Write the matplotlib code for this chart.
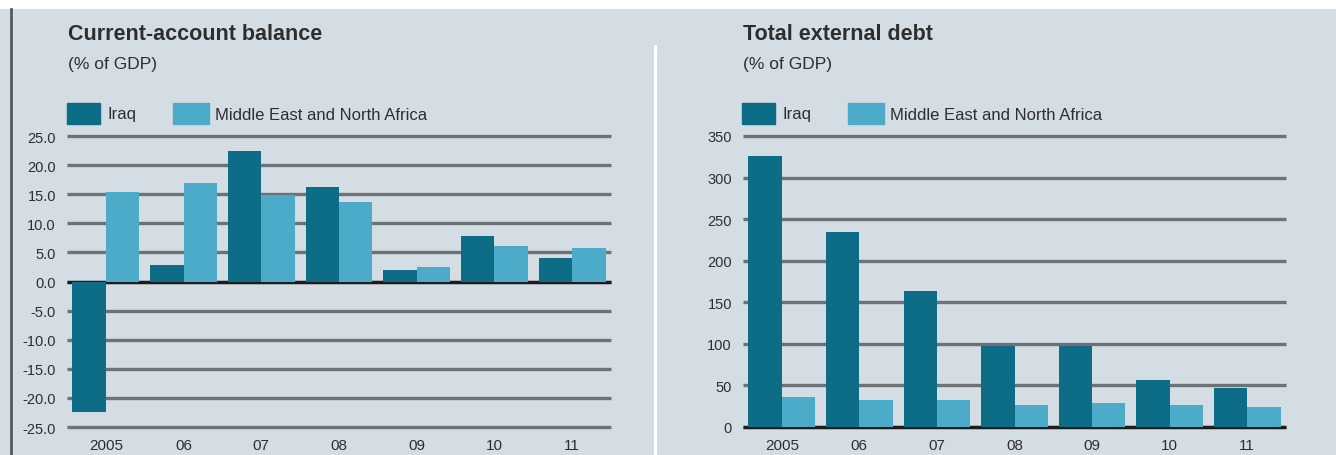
import matplotlib
matplotlib.use("Agg")
import matplotlib.pyplot as plt
import numpy as np

years = ["2005", "06", "07", "08", "09", "10", "11"]

# current-account balance, % of GDP
ca_iraq = [-22.5, 2.8, 22.5, 16.2, 2.0, 7.9, 4.0]
ca_mena = [15.4, 17.0, 14.8, 13.6, 2.5, 6.1, 5.8]

# total external debt, % of GDP
debt_iraq = [326, 235, 164, 98, 98, 57, 47]
debt_mena = [36, 33, 33, 27, 29, 26, 24]

IRAQ = "#0d6d87"
MENA = "#4cabc9"
BG = "#d5dde4"
GRID = "#6c7276"
TXT = "#2e2e2e"

plt.rcParams['font.family'] = ['Liberation Sans', 'DejaVu Sans']

W, H = 1336, 456
fig = plt.figure(figsize=(W / 100, H / 100), dpi=100)
fig.patch.set_facecolor("white")

# background panel below white strip
fig.add_artist(plt.Rectangle((0, 0), 1, 1 - 10 / H, transform=fig.transFigure,
                             facecolor=BG, edgecolor="none", zorder=-10))
fig.add_artist(plt.Line2D([10.5 / W, 10.5 / W], [0, 1 - 10 / H], transform=fig.transFigure,
                          color="#55595c", lw=2))
fig.add_artist(plt.Line2D([655 / W, 655 / W], [0, 1 - 47 / H], transform=fig.transFigure,
                          color="white", lw=2.2))


def panel(x0, x1, iraq, mena, yticks, fmt, title, tx, legx):
    ax = fig.add_axes([x0 / W, 1 - 428 / H, (x1 - x0) / W, (428 - 137) / H])
    ax.set_facecolor("none")
    x = np.arange(len(years))
    w = 0.43
    for y in yticks:
        ax.axhline(y, color=GRID, lw=2.4, zorder=1, clip_on=False,
                   solid_capstyle="butt")
    ax.axhline(0, color="#1c1c1c", lw=2.4, zorder=2, clip_on=False,
               solid_capstyle="butt")
    ax.bar(x - w / 2, iraq, w, color=IRAQ, zorder=3)
    ax.bar(x + w / 2, mena, w, color=MENA, zorder=3)
    ax.set_xlim(-0.5, 6.5)
    ax.set_ylim(yticks[0], yticks[-1])
    ax.set_yticks(yticks)
    ax.set_yticklabels([fmt.format(v) for v in yticks], fontsize=10.5, color=TXT)
    ax.set_xticks(x)
    ax.set_xticklabels(years, fontsize=11, color=TXT)
    ax.tick_params(length=0)
    ax.tick_params(axis="x", pad=8)
    ax.tick_params(axis="y", pad=8)
    for s in ax.spines.values():
        s.set_visible(False)

    fig.text(tx / W, 1 - 35 / H, title, fontsize=15.5, fontweight="bold", color=TXT,
             va="center", ha="left")
    fig.text(tx / W, 1 - 65 / H, "(% of GDP)", fontsize=12.5, color=TXT,
             va="center", ha="left")
    # legend
    sx = legx
    fig.add_artist(plt.Rectangle((sx / W, 1 - 125 / H), 33 / W, 21 / H,
                                 transform=fig.transFigure, color=IRAQ))
    fig.text((sx + 40) / W, 1 - 115 / H, "Iraq", fontsize=12, color=TXT,
             va="center", ha="left")
    fig.add_artist(plt.Rectangle(((sx + 106) / W, 1 - 125 / H), 36 / W, 21 / H,
                                 transform=fig.transFigure, color=MENA))
    fig.text((sx + 148) / W, 1 - 115 / H, "Middle East and North Africa", fontsize=12,
             color=TXT, va="center", ha="left")
    return ax


panel(67, 611, ca_iraq, ca_mena, [-25, -20, -15, -10, -5, 0, 5, 10, 15, 20, 25],
      "{:.1f}", "Current-account balance", 68, 67)
panel(743, 1286, debt_iraq, debt_mena, [0, 50, 100, 150, 200, 250, 300, 350],
      "{:d}", "Total external debt", 743, 742)

fig.savefig("out.png", dpi=100, facecolor=fig.get_facecolor())
